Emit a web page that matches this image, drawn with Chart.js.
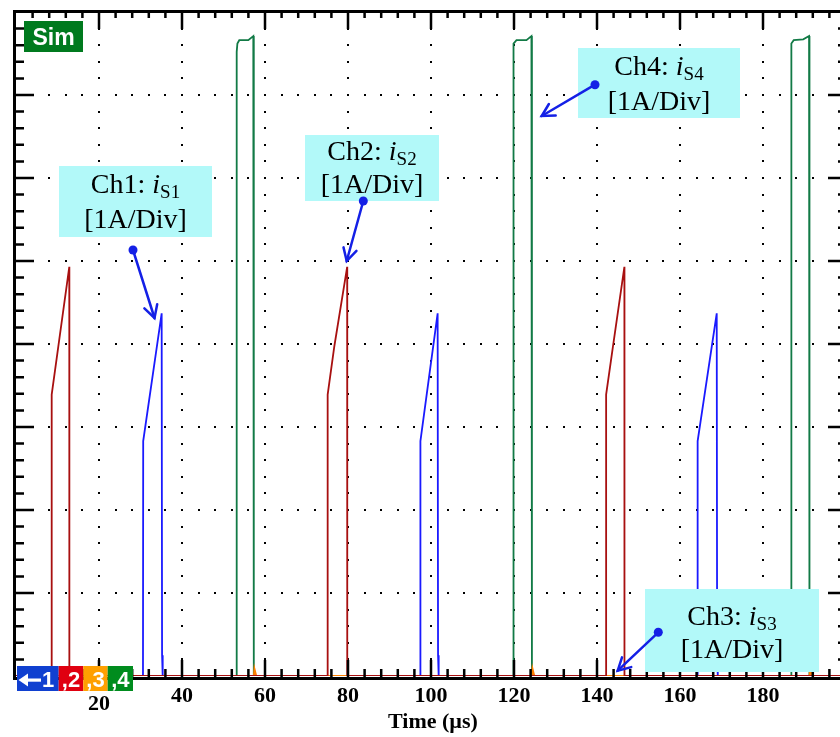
<!DOCTYPE html>
<html>
<head>
<meta charset="utf-8">
<script src="https://cdn.jsdelivr.net/npm/chart.js@4.4.1/dist/chart.umd.min.js"></script>
<style>
    html, body { margin: 0; padding: 0; background: #fff; overflow: hidden; }
    canvas { display: block; }
</style>
</head>
<body>
<canvas id="graficaSim" width="850" height="737"></canvas>
<script>
// tiempo en us, corriente en A (1 A por division)
const xTickLabels = [20, 40, 60, 80, 100, 120, 140, 160, 180];

const ch1Time = [0, 30.6, 30.65, 35.1, 35.2, 35.35, 97.4, 97.45, 101.6, 101.7, 101.85, 164.2, 164.25, 168.85, 168.95, 169.1, 200];
const ch1Amp  = [0, 0, 2.83, 4.37, 0.25, 0, 0, 2.83, 4.37, 0.25, 0, 0, 2.83, 4.37, 0.25, 0, 0];

const ch2Time = [0, 8.6, 8.6, 10.2, 12.84, 12.86, 75.1, 75.1, 76.7, 79.8, 79.82, 142.2, 142.2, 143.9, 146.6, 146.62, 200];
const ch2Amp  = [0, 0, 3.39, 3.97, 4.93, 0, 0, 3.39, 3.97, 4.93, 0, 0, 3.39, 3.99, 4.93, 0, 0];

const ch3Time = [0, 57.3, 57.45, 57.9, 124.3, 124.45, 124.9, 191.2, 191.35, 191.8, 200];
const ch3Amp  = [0, 0, 0.09, 0, 0, 0.09, 0, 0, 0.09, 0, 0];

const ch4Time = [0, 53.18, 53.18, 53.35, 53.8, 55.98, 57.18, 57.3, 57.3,
                 119.8, 119.8, 119.97, 120.6, 123.0, 124.2, 124.32, 124.32,
                 186.75, 186.75, 186.92, 187.4, 189.7, 191.1, 191.2, 191.2, 200];
const ch4Amp  = [0, 0, 7.52, 7.62, 7.66, 7.66, 7.71, 7.71, 0,
                 0, 7.52, 7.62, 7.66, 7.66, 7.71, 7.71, 0,
                 0, 7.52, 7.62, 7.66, 7.67, 7.71, 7.71, 0, 0];

function puntos(t, a) {
    return t.map(function(v, i) { return { x: v, y: a[i] }; });
}

const SERIF = '"Liberation Serif", "Times New Roman", serif';
const SANS = '"Liberation Sans", Arial, sans-serif';

// cajas de etiquetas: caja, centro, lineas base, flecha (punto -> punta)
const etiquetas = [
    { ch: 'Ch1', sub: 'S1', box: [59, 166, 153, 71], cx: 135.5, b1: 193, b2: 228, from: [133, 250], to: [154.5, 318] },
    { ch: 'Ch2', sub: 'S2', box: [305, 135, 134, 66], cx: 372, b1: 160, b2: 193, from: [363.3, 201], to: [346.7, 261] },
    { ch: 'Ch4', sub: 'S4', box: [578, 48, 162, 70], cx: 659, b1: 75, b2: 110, from: [595, 84.7], to: [541.7, 116] },
    { ch: 'Ch3', sub: 'S3', box: [645, 589, 174, 83], cx: 732, b1: 625, b2: 658, from: [658.3, 632.3], to: [617.7, 670.7] }
];

function flecha(ctx, e) {
    const [x1, y1] = e.from, [x2, y2] = e.to;
    const ang = Math.atan2(y2 - y1, x2 - x1);
    ctx.strokeStyle = '#1420e6';
    ctx.fillStyle = '#1420e6';
    ctx.lineWidth = 2.5;
    ctx.lineCap = 'round';
    ctx.beginPath();
    ctx.moveTo(x1, y1);
    ctx.lineTo(x2, y2);
    ctx.stroke();
    ctx.beginPath();
    ctx.moveTo(x2 - 14 * Math.cos(ang - 0.5), y2 - 14 * Math.sin(ang - 0.5));
    ctx.lineTo(x2, y2);
    ctx.lineTo(x2 - 14 * Math.cos(ang + 0.5), y2 - 14 * Math.sin(ang + 0.5));
    ctx.stroke();
    ctx.beginPath();
    ctx.arc(x1, y1, 4.5, 0, Math.PI * 2);
    ctx.fill();
}

function etiqueta(ctx, e) {
    const [bx, by, bw, bh] = e.box;
    ctx.fillStyle = '#b2f9f9';
    ctx.fillRect(bx, by, bw, bh);
    ctx.fillStyle = '#000';
    ctx.textBaseline = 'alphabetic';
    ctx.textAlign = 'left';
    const fN = '28px ' + SERIF, fI = 'italic 28px ' + SERIF, fS = '19px ' + SERIF;
    const t1 = e.ch + ': ';
    ctx.font = fN; const w1 = ctx.measureText(t1).width;
    ctx.font = fI; const w2 = ctx.measureText('i').width;
    ctx.font = fS; const w3 = ctx.measureText(e.sub).width;
    let x = e.cx - (w1 + w2 + w3) / 2;
    ctx.font = fN; ctx.fillText(t1, x, e.b1); x += w1;
    ctx.font = fI; ctx.fillText('i', x, e.b1); x += w2;
    ctx.font = fS; ctx.fillText(e.sub, x, e.b1 + 5);
    ctx.font = fN;
    ctx.textAlign = 'center';
    ctx.fillText('[1A/Div]', e.cx, e.b2);
}

const osciloscopio = {
    id: 'osciloscopio',
    beforeDatasetsDraw(chart) {
        const { ctx, scales: { x, y } } = chart;
        ctx.save();
        ctx.fillStyle = '#000';
        // columnas punteadas
        for (const t of xTickLabels) {
            const px = Math.round(x.getPixelForValue(t));
            for (let k = 1; k < 40; k++) {
                const py = Math.round(y.getPixelForValue(k * 0.2));
                ctx.fillRect(px - 1, py - 1, 2, 2);
            }
        }
        // filas punteadas
        for (let a = 1; a < 8; a++) {
            const py = Math.round(y.getPixelForValue(a));
            for (let k = 1; k < 50; k++) {
                const px = Math.round(x.getPixelForValue(k * 4));
                ctx.fillRect(px - 1, py - 1, 2, 2);
            }
        }
        ctx.restore();
    },
    afterDatasetsDraw(chart) {
        const { ctx, chartArea: ca, scales: { x, y } } = chart;
        ctx.save();
        ctx.strokeStyle = '#000';
        // marco
        ctx.lineWidth = 3;
        ctx.beginPath();
        ctx.moveTo(ca.left - 1.5, 10); ctx.lineTo(ca.left - 1.5, ca.bottom + 4);
        ctx.moveTo(ca.left - 3, 11.5); ctx.lineTo(ca.right + 3, 11.5);
        ctx.moveTo(ca.left - 3, ca.bottom + 2.5); ctx.lineTo(ca.right + 3, ca.bottom + 2.5);
        ctx.moveTo(ca.right + 1.5, 10); ctx.lineTo(ca.right + 1.5, ca.bottom + 4);
        ctx.stroke();
        // marcas verticales (izquierda y derecha)
        ctx.lineWidth = 2.5;
        ctx.beginPath();
        for (let k = 1; k < 40; k++) {
            const py = y.getPixelForValue(k * 0.2);
            const mayor = k % 5 === 0;
            ctx.moveTo(ca.left - 3, py); ctx.lineTo(ca.left + (mayor ? 18 : 8), py);
            ctx.moveTo(ca.right + 1, py); ctx.lineTo(ca.right - (mayor ? 18 : 8), py);
        }
        // marcas horizontales (arriba y abajo)
        for (let k = 1; k < 50; k++) {
            const px = x.getPixelForValue(k * 4);
            const mayor = k % 5 === 0;
            ctx.moveTo(px, 11); ctx.lineTo(px, 11 + (mayor ? 18 : 7));
            ctx.moveTo(px, ca.bottom + 1); ctx.lineTo(px, ca.bottom - (mayor ? 16 : 7));
        }
        ctx.stroke();
        ctx.restore();
    },
    afterDraw(chart) {
        const { ctx, chartArea: ca, scales: { x } } = chart;
        ctx.save();
        // etiquetas del eje x
        ctx.fillStyle = '#000';
        ctx.font = 'bold 22px ' + SERIF;
        ctx.textAlign = 'center';
        ctx.textBaseline = 'alphabetic';
        for (const t of xTickLabels) {
            ctx.fillText(String(t), x.getPixelForValue(t), t === 20 ? 710 : 701.5);
        }
        ctx.fillText('Time (\u00b5s)', (ca.left + ca.right) / 2 + 2, 728);

        for (const e of etiquetas) etiqueta(ctx, e);
        for (const e of etiquetas) flecha(ctx, e);

        // Sim
        ctx.fillStyle = '#007a1e';
        ctx.fillRect(24, 21, 59, 31);
        ctx.fillStyle = '#fff';
        ctx.font = 'bold 23px ' + SANS;
        ctx.textAlign = 'center';
        ctx.fillText('Sim', 53.5, 45);

        // indicador de canales
        const caj = [['#1040d0', 17, 41.7, '1', 48], ['#e00010', 58.7, 24.6, ',2', 71],
                     ['#ffa000', 83.3, 24.4, ',3', 95.5], ['#008c1e', 107.7, 25.3, ',4', 120.3]];
        ctx.font = 'bold 22px ' + SANS;
        for (const c of caj) {
            ctx.fillStyle = c[0];
            ctx.fillRect(c[1], 666, c[2], 25);
            ctx.fillStyle = '#fff';
            ctx.fillText(c[3], c[4], 687);
        }
        ctx.beginPath();
        ctx.moveTo(18.5, 680); ctx.lineTo(28, 673.5); ctx.lineTo(28, 686.5); ctx.closePath();
        ctx.fill();
        ctx.fillRect(27, 678.5, 14, 3.2);
        ctx.restore();
    }
};

const ctxSim = document.getElementById('graficaSim');
new Chart(ctxSim, {
    type: 'line',
    data: {
        datasets: [
            { label: 'Ch2', data: puntos(ch2Time, ch2Amp), borderColor: '#a81010', borderWidth: 1.8 },
            { label: 'Ch3', data: puntos(ch3Time, ch3Amp), borderColor: '#ff8000', borderWidth: 1.8 },
            { label: 'Ch1', data: puntos(ch1Time, ch1Amp), borderColor: '#1a1aff', borderWidth: 1.8 },
            { label: 'Ch4', data: puntos(ch4Time, ch4Amp), borderColor: '#127a46', borderWidth: 1.8 }
        ]
    },
    options: {
        responsive: false,
        animation: false,
        layout: { padding: { left: 16, top: 12, right: 4, bottom: 61 } },
        elements: { point: { radius: 0 }, line: { tension: 0, borderJoinStyle: 'miter' } },
        scales: {
            x: { type: 'linear', min: 0, max: 200, display: false },
            y: { min: 0, max: 8, display: false }
        },
        plugins: {
            legend: { display: false },
            tooltip: { enabled: false }
        }
    },
    plugins: [osciloscopio]
});
</script>
</body>
</html>
